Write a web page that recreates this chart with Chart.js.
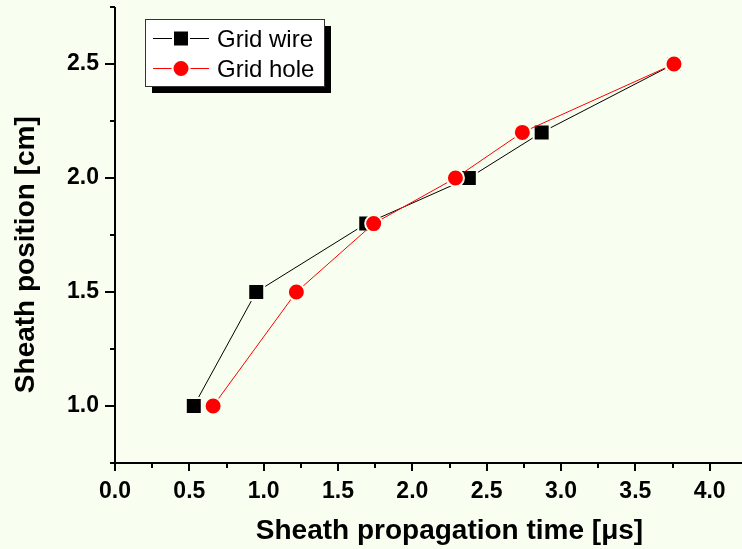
<!DOCTYPE html>
<html>
<head>
<meta charset="utf-8">
<script src="https://cdn.jsdelivr.net/npm/chart.js@4"></script>
<style>
  html, body { margin: 0; padding: 0; overflow: hidden; background: #f8fff0; }
  #wrap { width: 830px; height: 549px; }
</style>
</head>
<body>
<div id="wrap"><canvas id="sheathChart" width="830" height="549"></canvas></div>
<script>
// sheath position vs. propagation time
const positions = [1.0, 1.5, 1.8, 2.0, 2.2, 2.5];
const wireTimes = [0.53, 0.95, 1.69, 2.38, 2.87, 3.76];
const holeTimes = [0.66, 1.22, 1.74, 2.29, 2.74, 3.76];
const seriesNames = ["Grid wire", "Grid hole"];
const xTitle = "Sheath propagation time [\u03bcs]";
const yTitle = "Sheath position [cm]";

const bg = "#f8fff0";
const font = '"Liberation Sans", Arial, sans-serif';

function points(times) {
  return times.map((t, i) => ({ x: t, y: positions[i] }));
}

function isMajor(v) {
  return Math.abs(v * 2 - Math.round(v * 2)) < 1e-6;
}

// background, axis lines, major/minor ticks and axis titles
const axesPlugin = {
  id: "originAxes",
  beforeDraw(chart) {
    const ctx = chart.ctx;
    ctx.save();
    ctx.fillStyle = bg;
    ctx.fillRect(0, 0, chart.width, chart.height);
    ctx.restore();
  },
  beforeDatasetsDraw(chart) {
    const { ctx, chartArea: a, scales: { x, y } } = chart;
    ctx.save();
    ctx.strokeStyle = "#000";
    ctx.lineWidth = 2;
    ctx.beginPath();
    ctx.moveTo(a.left, a.top);
    ctx.lineTo(a.left, a.bottom + 8);
    ctx.moveTo(a.left - 3, a.bottom);
    ctx.lineTo(a.right, a.bottom);
    y.ticks.forEach(t => {
      const py = Math.round(y.getPixelForValue(t.value));
      ctx.moveTo(a.left, py);
      ctx.lineTo(a.left - (isMajor(t.value) ? 10 : 5), py);
    });
    x.ticks.forEach(t => {
      const px = Math.round(x.getPixelForValue(t.value));
      ctx.moveTo(px, a.bottom);
      ctx.lineTo(px, a.bottom + (isMajor(t.value) ? 8 : 5));
    });
    ctx.stroke();

    ctx.fillStyle = "#000";
    ctx.font = "bold 28px " + font;
    ctx.textAlign = "center";
    ctx.textBaseline = "alphabetic";
    ctx.fillText(xTitle, 449.5, 539);
    ctx.translate(33.5, 254.7);
    ctx.rotate(-Math.PI / 2);
    ctx.fillText(yTitle, 0, 0);
    ctx.restore();
  }
};

// boxed legend with drop shadow
const legendPlugin = {
  id: "boxLegend",
  afterDraw(chart) {
    const ctx = chart.ctx;
    const box = { x: 145, y: 19, w: 179, h: 67 };
    ctx.save();
    ctx.fillStyle = "#000";
    ctx.fillRect(box.x + 7, box.y + 7, box.w, box.h);
    ctx.fillStyle = "#fff";
    ctx.fillRect(box.x, box.y, box.w, box.h);
    ctx.strokeStyle = "#333";
    ctx.lineWidth = 1;
    ctx.strokeRect(box.x + 0.5, box.y + 0.5, box.w, box.h);

    const rows = [38.5, 68.5];
    chart.data.datasets.slice().sort((p, q) => p.legendIndex - q.legendIndex).forEach((ds, i) => {
      const cy = rows[i];
      ctx.strokeStyle = ds.borderColor;
      ctx.lineWidth = 1;
      ctx.beginPath();
      ctx.moveTo(153, cy);
      ctx.lineTo(209, cy);
      ctx.stroke();
      ctx.fillStyle = ds.pointBackgroundColor;
      ctx.lineWidth = ds.pointBorderWidth;
      ctx.beginPath();
      if (ds.pointStyle === "rect") {
        const s = ds.pointRadius * Math.SQRT1_2;
        ctx.rect(181 - s, cy - s, 2 * s, 2 * s);
      } else {
        ctx.arc(181, cy, ds.pointRadius, 0, Math.PI * 2);
      }
      ctx.fill();
      ctx.strokeStyle = "#fff";
      ctx.stroke();
      ctx.fillStyle = "#000";
      ctx.font = "24px " + font;
      ctx.textAlign = "left";
      ctx.textBaseline = "alphabetic";
      ctx.fillText(ds.label, 217, cy + 8);
    });
    ctx.restore();
  }
};

new Chart(document.getElementById("sheathChart"), {
  type: "line",
  data: {
    datasets: [
      {
        label: seriesNames[1],
        legendIndex: 1,
        data: points(holeTimes),
        borderColor: "#ff0000",
        borderWidth: 1,
        pointStyle: "circle",
        pointRadius: 8.5,
        pointBackgroundColor: "#ff0000",
        pointBorderColor: bg,
        pointBorderWidth: 2,
        order: 0
      },
      {
        label: seriesNames[0],
        legendIndex: 0,
        data: points(wireTimes),
        borderColor: "#000000",
        borderWidth: 1,
        pointStyle: "rect",
        pointRadius: 11.3,
        pointBackgroundColor: "#000000",
        pointBorderColor: bg,
        pointBorderWidth: 2,
        order: 1
      }
    ]
  },
  options: {
    responsive: false,
    animation: false,
    events: [],
    layout: { autoPadding: false, padding: { top: 7, right: 46, left: 0, bottom: 0 } },
    plugins: { legend: { display: false }, tooltip: { enabled: false } },
    scales: {
      x: {
        type: "linear",
        min: 0,
        max: 4.5,
        grid: { display: false, drawTicks: false },
        border: { display: false },
        afterFit(scale) {
          scale.height = 86;
          scale.paddingLeft = 0;
          scale.paddingRight = 0;
        },
        ticks: {
          stepSize: 0.25,
          padding: 15,
          color: "#000",
          font: { family: font, size: 23, weight: "bold" },
          maxRotation: 0,
          autoSkip: false,
          callback: v => isMajor(v) ? v.toFixed(1) : ""
        }
      },
      y: {
        min: 0.75,
        max: 2.75,
        grid: { display: false, drawTicks: false },
        border: { display: false },
        afterFit(scale) {
          scale.width = 115;
          scale.paddingTop = 0;
          scale.paddingBottom = 0;
        },
        ticks: {
          stepSize: 0.25,
          padding: 16,
          color: "#000",
          font: { family: font, size: 23, weight: "bold" },
          callback: v => isMajor(v) ? v.toFixed(1) : ""
        }
      }
    }
  },
  plugins: [axesPlugin, legendPlugin]
});
</script>
</body>
</html>
